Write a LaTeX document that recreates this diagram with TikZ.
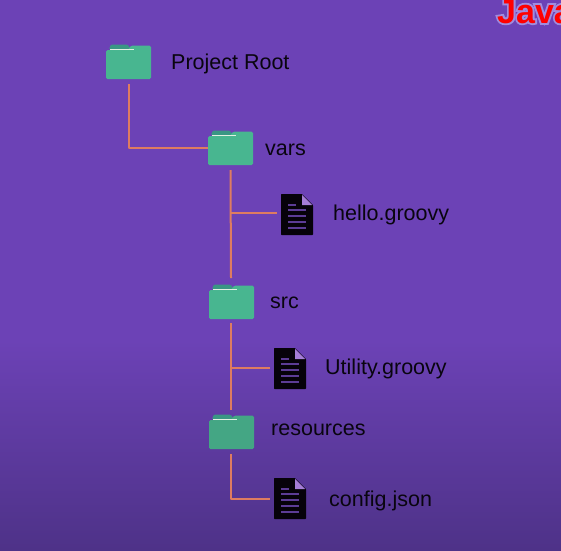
\documentclass[tikz,border=0pt]{standalone}
\usepackage{fontspec}
\setmainfont{Liberation Sans}
\newfontfamily\javaface{Liberation Sans Bold}
\newfontfamily\javaglow[FakeBold=11]{Liberation Sans Bold}
\definecolor{bgtop}{RGB}{108,66,182}
\definecolor{bgbot}{RGB}{78,50,136}
\definecolor{folderbody}{RGB}{72,182,144}
\definecolor{folderlow}{RGB}{68,166,132}
\definecolor{foldertab}{RGB}{58,150,132}
\definecolor{foldershine}{RGB}{225,240,225}
\definecolor{linkcol}{RGB}{222,124,96}
\definecolor{docblack}{RGB}{6,2,10}
\definecolor{docline}{RGB}{92,60,150}
\definecolor{docfold}{RGB}{165,125,215}
\definecolor{glowcol}{RGB}{160,140,222}
\tikzset{
  x=1pt,y=-1pt,
  folderbox/.style={minimum width=45pt,minimum height=35pt,inner sep=0pt,outer sep=0pt},
  docbox/.style={minimum width=32pt,minimum height=41pt,inner sep=0pt,outer sep=0pt},
  link/.style={draw=linkcol,line width=2pt,line join=round},
  label/.style={anchor=base west,inner sep=0pt,text=black!92!bgtop,font=\fontsize{21.5}{25}\selectfont},
}
\newcommand{\folderat}[4]{% name, x-left, y-top, colour
  \node[folderbox] (#1) at (#2+22.5,#3+17.5) {};
  \begin{scope}[shift={(#2,#3)}]
    \fill[foldertab,rounded corners=1.5pt] (3,6) -- (4.5,0.5) -- (22,0.5) -- (25,6) -- cycle;
    \fill[#4,rounded corners=1.5pt] (0,6) -- (22,6) -- (25,1.5) -- (45,1.5) -- (45,35) -- (0,35) -- cycle;
    \fill[foldershine] (4,5) rectangle (28,6.2);
  \end{scope}
}
\newcommand{\docat}[3]{% name, x-left, y-top
  \node[docbox] (#1) at (#2+16,#3+20.5) {};
  \begin{scope}[shift={(#2,#3)}]
    \fill[docblack,rounded corners=0.6pt] (0,0) -- (21,0) -- (32,11) -- (32,41) -- (0,41) -- cycle;
    \fill[docfold] (21,0.8) -- (31.2,11) -- (21,11) -- cycle;
    \fill[docline] (7,10) rectangle (15,11.5);
    \foreach \yy in {15,21,27,33}{\fill[docline] (7,\yy) rectangle (25,\yy+1.7);}
  \end{scope}
}
\begin{document}
\begin{tikzpicture}
\useasboundingbox (0,0) rectangle (561,550);
\clip (0,0) rectangle (561,550);
\fill[bgtop] (0,0) rectangle (561,341);
\shade[top color=bgtop,bottom color=bgbot] (0,340) rectangle (561,550);

\folderat{root}{106}{44}{folderbody}
\folderat{vars}{208}{130}{folderbody}
\folderat{src}{209}{284}{folderbody}
\folderat{res}{209}{414}{folderlow}
\docat{hello}{281}{194}
\docat{utility}{274}{348}
\docat{config}{274}{478}

\coordinate (rootout) at (128.5,84);
\coordinate (varsin) at (208,148);
\coordinate (varsout) at (230.5,170);
\coordinate (srcin) at (231,278);
\coordinate (srcout) at (231,323);
\coordinate (resin) at (231,410);
\coordinate (resout) at (231,454);
\coordinate (hellotap) at (231,213);
\coordinate (utiltap) at (231,368);
\coordinate (helloend) at (277,213);
\coordinate (utilend) at (270,368);
\coordinate (configend) at (270,499);

\draw[link] (rootout) |- (varsin);
\draw[link] (varsout) -- (srcin);
\draw[link] (hellotap) -- (helloend);
\draw[link] (srcout) -- (resin);
\draw[link] (utiltap) -- (utilend);
\draw[link] (resout) |- (configend);

\node[label] (t1) at (171,69) {Project Root};
\node[label] (t2) at (265,155) {vars};
\node[label] (t3) at (333,220) {hello.groovy};
\node[label] (t4) at (270,308) {src};
\node[label] (t5) at (325,374) {Utility.groovy};
\node[label] (t6) at (271,435) {resources};
\node[label] (t7) at (329,506) {config.json};

\node[anchor=base west,inner sep=0pt,font=\fontsize{34}{40}\selectfont] (java) at (497,23)
  {\rlap{\javaglow\color{glowcol}Java}{\javaface\color{red}Java}};
\end{tikzpicture}
\end{document}
